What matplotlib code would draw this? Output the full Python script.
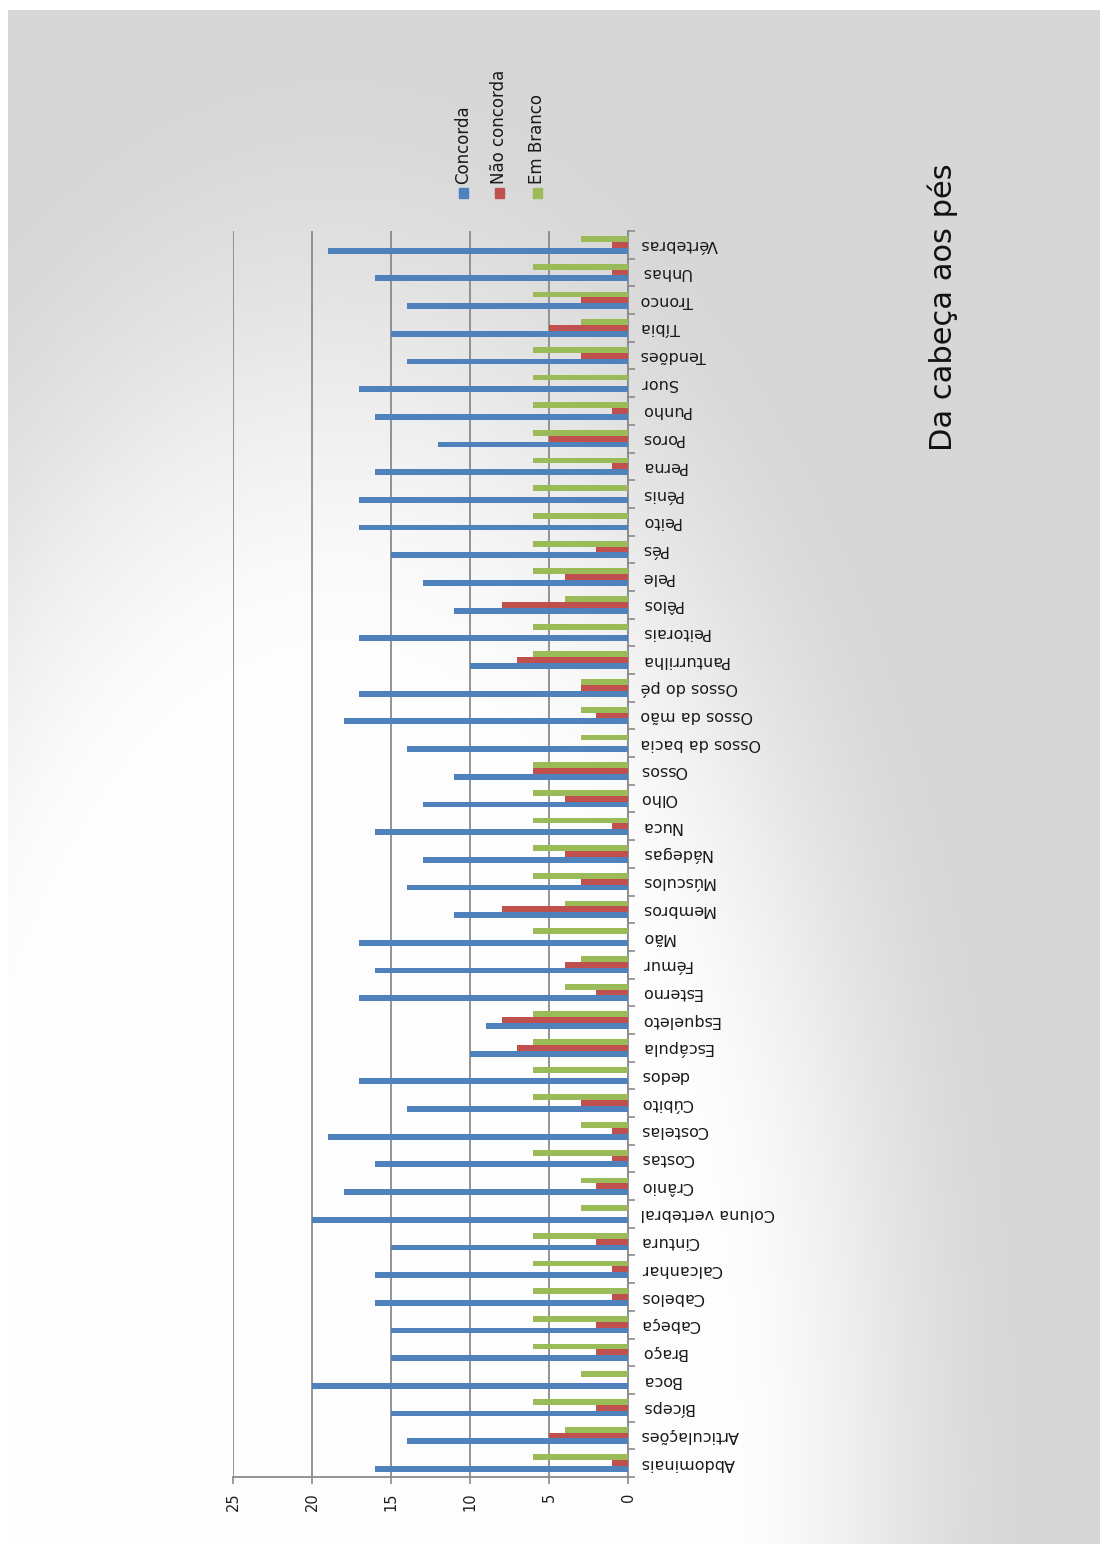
import numpy as np
import matplotlib
matplotlib.use("Agg")
import matplotlib.pyplot as plt
from matplotlib.patches import Rectangle

plt.rcParams['font.family'] = ['DejaVu Sans']

# Body parts, listed from the bottom of the chart to the top
categories = [
    "Abdominais", "Articulações", "Bíceps", "Boca", "Braço", "Cabeça", "Cabelos",
    "Calcanhar", "Cintura", "Coluna vertebral", "Crânio", "Costas", "Costelas",
    "Cúbito", "dedos", "Escápula", "Esqueleto", "Esterno", "Fémur", "Mão",
    "Membros", "Músculos", "Nádegas", "Nuca", "Olho", "Ossos", "Ossos da bacia",
    "Ossos da mão", "Ossos do pé", "Panturrilha", "Peitorais", "Pêlos", "Pele",
    "Pés", "Peito", "Pénis", "Perna", "Poros", "Punho", "Suor", "Tendões",
    "Tíbia", "Tronco", "Unhas", "Vértebras",
]
concorda = [16, 14, 15, 20, 15, 15, 16, 16, 15, 20, 18, 16, 19, 14, 17, 10, 9,
            17, 16, 17, 11, 14, 13, 16, 13, 11, 14, 18, 17, 10, 17, 11, 13, 15,
            17, 17, 16, 12, 16, 17, 14, 15, 14, 16, 19]
nao_concorda = [1, 5, 2, 0, 2, 2, 1, 1, 2, 0, 2, 1, 1, 3, 0, 7, 8, 2, 4, 0, 8,
                3, 4, 1, 4, 6, 0, 2, 3, 7, 0, 8, 4, 2, 0, 0, 1, 5, 1, 0, 3, 5,
                3, 1, 1]
em_branco = [6, 4, 6, 3, 6, 6, 6, 6, 6, 3, 3, 6, 3, 6, 6, 6, 6, 4, 3, 6, 4, 6,
             6, 6, 6, 6, 3, 3, 3, 6, 6, 4, 6, 6, 6, 6, 6, 6, 6, 6, 6, 3, 6, 6, 3]
series_names = ["Concorda", "Não concorda", "Em Branco"]
value_ticks = [0, 5, 10, 15, 20, 25]
title = "Da cabeça aos pés"

colors = ["#4F81BD", "#C0504D", "#9BBB59"]
grid_gray = "#8a8a8a"

W, H = 1100, 1544
fig = plt.figure(figsize=(W / 100, H / 100), dpi=100)
fig.patch.set_facecolor("white")

# Soft grey slide background, lighter toward the lower left
bg = fig.add_axes([8 / W, 0, 1 - 8 / W, 1 - 10 / H], zorder=-10)
yy, xx = np.mgrid[0:H, 0:W]
r = np.sqrt(((xx - 330) / 640.0) ** 2 + ((yy - 1480) / 1320.0) ** 2)
t = np.clip((r - 0.6) / 0.5, 0, 1)
s = t * t * (3 - 2 * t)
light = 0.995 - 0.15 * s
img = np.dstack([light, light, light])
bg.imshow(img, aspect="auto", extent=[0, 1, 0, 1], origin="upper")
bg.axis("off")

# Main chart: values grow to the left, categories run upward
ax = fig.add_axes([233 / W, 1 - 1477 / H, (628 - 233) / W, (1477 - 231) / H])
ax.patch.set_alpha(0)

n = len(categories)
idx = np.arange(n)
h = 0.21
ax.barh(idx - h, concorda, height=h, color=colors[0], zorder=3)
ax.barh(idx, nao_concorda, height=h, color=colors[1], zorder=3)
ax.barh(idx + h, em_branco, height=h, color=colors[2], zorder=3)

ax.set_xlim(25, 0)
ax.set_ylim(-0.5, n - 0.5)

ax.set_xticks(value_ticks)
ax.set_xticklabels([str(v) for v in value_ticks], rotation=90, fontsize=10.5,
                   color="#1e1e1e")
ax.xaxis.grid(True, color=grid_gray, linewidth=1.3, zorder=0)
ax.set_axisbelow(True)
ax.tick_params(axis="x", direction="out", length=5, width=1.2,
               color=grid_gray, pad=6)

ax.yaxis.tick_right()
ax.set_yticks(idx)
ax.set_yticklabels(categories, fontsize=11.5, color="#1a1a1a")
for lab in ax.get_yticklabels():
    lab.set_rotation(180)
    lab.set_va("center")
    lab.set_ha("left")
ax.set_yticks(np.arange(-0.5, n, 1), minor=True)
ax.tick_params(axis="y", which="major", length=0, pad=9)
ax.tick_params(axis="y", which="minor", right=True, left=False,
               direction="out", length=5, width=1.2, color=grid_gray)

for side in ("top", "left"):
    ax.spines[side].set_visible(False)
for side in ("right", "bottom"):
    ax.spines[side].set_color(grid_gray)
    ax.spines[side].set_linewidth(1.3)

# Legend, turned on its side
leg_x = [463, 499, 537]
for name, col, lx in zip(series_names, colors, leg_x):
    fig.patches.append(Rectangle(((lx - 4) / W, 1 - 198 / H), 9 / W, 10 / H,
                                 transform=fig.transFigure, color=col))
    fig.text(lx / W, 1 - 184 / H, name, rotation=90, ha="center", va="bottom",
             fontsize=12, color="#1a1a1a")

fig.text(943 / W, 1 - 307 / H, title, rotation=90, ha="center", va="center",
         fontsize=22, color="#111111")

fig.savefig("out.png", dpi=100)
